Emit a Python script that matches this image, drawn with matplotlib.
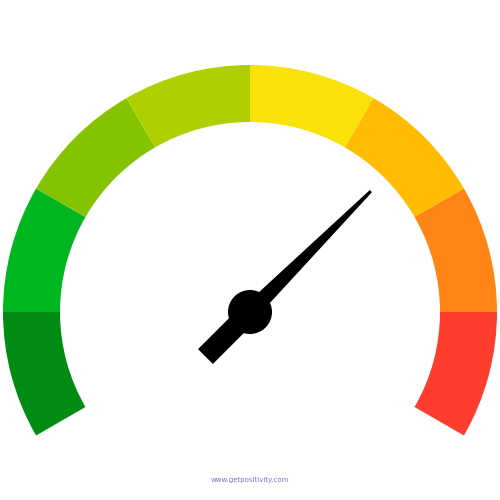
import matplotlib
matplotlib.use("Agg")
import matplotlib.pyplot as plt
from matplotlib.patches import Wedge, Circle, Polygon
import numpy as np

# gauge segments, from left (210 deg) to right (-30 deg)
seg_colors = ["#008B12", "#00B620", "#84C300", "#B0CF00",
              "#F9E20A", "#FFBC00", "#FF8514", "#FF3D2E"]
start_angle = 210
seg_span = 30
needle_angle = 45
site = "www.getpositivity.com"

cx, cy = 250, 188  # y measured upward (500 - 312)
r_out, r_in = 247, 190

fig = plt.figure(figsize=(5, 5), dpi=100)
ax = fig.add_axes([0, 0, 1, 1])
ax.set_xlim(0, 500)
ax.set_ylim(0, 500)
ax.set_aspect("equal")
ax.axis("off")

for i, c in enumerate(seg_colors):
    a1 = start_angle - (i + 1) * seg_span
    a2 = start_angle - i * seg_span
    ax.add_patch(Wedge((cx, cy), r_out, a1, a2, width=r_out - r_in,
                       facecolor=c, edgecolor="none"))

# needle: wide tail behind the hub, tapered pointer in front
t = np.deg2rad(needle_angle)
d = np.array([np.cos(t), np.sin(t)])
n = np.array([-np.sin(t), np.cos(t)])
c0 = np.array([cx, cy])
tail = c0 - 63 * d
tip = c0 + 171 * d
ax.add_patch(Polygon([tail + 10.5 * n, c0 + 10.5 * n, c0 - 10.5 * n, tail - 10.5 * n],
                     closed=True, facecolor="black", edgecolor="none"))
ax.add_patch(Polygon([c0 + 8.5 * n, tip + 1.5 * n, tip - 1.5 * n, c0 - 8.5 * n],
                     closed=True, facecolor="black", edgecolor="none"))
ax.add_patch(Circle((cx, cy), 22, facecolor="black", edgecolor="none"))

ax.text(250, 20, site, ha="center", va="center", fontsize=5, color="#7575E0")

fig.savefig("out.png", dpi=100)
